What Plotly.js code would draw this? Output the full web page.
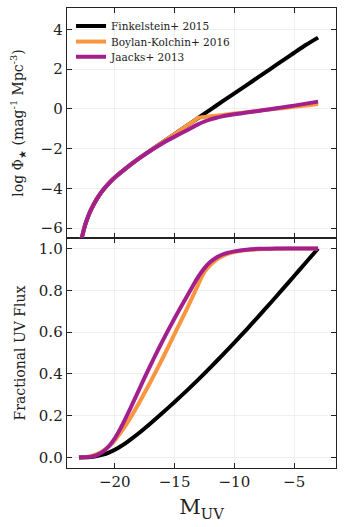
<!DOCTYPE html>
<html>
<head>
<meta charset="utf-8">
<script src="https://cdn.plot.ly/plotly-3.0.1.min.js"></script>
<style>
  body { margin: 0; background: #fff; }
  #plot { width: 346px; height: 527px; }
</style>
</head>
<body>
<div id="plot"></div>
<script>
// luminosity functions (top) and cumulative UV flux (bottom) vs M_UV

var names = ["Finkelstein+ 2015", "Boylan-Kolchin+ 2016", "Jaacks+ 2013"];
var colors = ["#000000", "#fa9640", "#a31f8d"];

// top panel: log phi
var mFink = [-23, -22.75, -22.5, -22.25, -22, -21.5, -21, -20.5, -20, -19, -18, -17, -16, -15, -14, -13, -12, -11, -10, -9, -8, -7, -6, -5, -4, -3];
var phiFink = [-6.96, -6.45, -5.88, -5.44, -5.09, -4.53, -4.10, -3.75, -3.46, -2.96, -2.51, -2.09, -1.68, -1.27, -0.86, -0.45, -0.04, 0.37, 0.78, 1.18, 1.59, 2.00, 2.41, 2.82, 3.22, 3.58];

var mBK = [-23, -22.75, -22.5, -22.25, -22, -21.5, -21, -20.5, -20, -19, -18, -17, -16, -15, -14.5, -14, -13.5, -13, -12.75, -12.5, -12, -11, -10, -9, -8, -7, -6, -5, -4, -3];
var phiBK = [-6.96, -6.45, -5.88, -5.44, -5.09, -4.53, -4.10, -3.75, -3.46, -2.96, -2.51, -2.09, -1.68, -1.27, -1.065, -0.86, -0.655, -0.45, -0.43, -0.41, -0.38, -0.31, -0.24, -0.17, -0.10, -0.03, 0.03, 0.10, 0.17, 0.24];

var mJaacks = [-23, -22.75, -22.5, -22.25, -22, -21.5, -21, -20.5, -20, -19, -18, -17, -16, -15, -14, -13, -12.5, -12, -11.5, -11, -10.5, -10, -9, -8, -7, -6, -5, -4, -3];
var phiJaacks = [-6.96, -6.45, -5.88, -5.44, -5.09, -4.53, -4.10, -3.75, -3.46, -2.96, -2.51, -2.10, -1.73, -1.40, -1.09, -0.77, -0.64, -0.53, -0.45, -0.38, -0.325, -0.28, -0.19, -0.11, -0.02, 0.07, 0.16, 0.26, 0.36];

// bottom panel: fractional UV flux
var mFlux = [-23, -22.5, -22, -21.5, -21, -20.5, -20, -19.5, -19, -18.5, -18, -17, -16, -15, -14, -13, -12, -11, -10, -9, -8, -7, -6, -5, -4, -3];
var fluxFink = [0.000, 0.001, 0.003, 0.007, 0.014, 0.024, 0.037, 0.054, 0.073, 0.094, 0.116, 0.164, 0.214, 0.266, 0.319, 0.374, 0.431, 0.490, 0.550, 0.611, 0.674, 0.738, 0.803, 0.868, 0.934, 1.000];

var mFluxBK = [-23, -22.5, -22, -21.5, -21, -20.5, -20, -19.5, -19, -18.5, -18, -17, -16, -15, -14, -13, -12.75, -12.5, -12, -11.5, -11, -10.5, -10, -9, -8, -7, -6, -5, -4, -3];
var fluxBK = [0.000, 0.002, 0.007, 0.016, 0.031, 0.053, 0.082, 0.120, 0.162, 0.209, 0.258, 0.364, 0.475, 0.591, 0.708, 0.830, 0.862, 0.888, 0.922, 0.947, 0.963, 0.975, 0.983, 0.992, 0.996, 0.998, 0.999, 1.000, 1.000, 1.000];

var mFluxJ = [-23, -22.5, -22, -21.5, -21, -20.5, -20, -19.5, -19, -18.5, -18, -17.5, -17, -16.5, -16, -15.5, -15, -14.5, -14, -13.5, -13, -12.5, -12, -11.5, -11, -10.5, -10, -9, -8, -7, -6, -5, -4, -3];
var fluxJ = [0.000, 0.001, 0.004, 0.012, 0.028, 0.054, 0.092, 0.142, 0.199, 0.260, 0.321, 0.383, 0.443, 0.502, 0.558, 0.613, 0.666, 0.718, 0.768, 0.818, 0.866, 0.906, 0.936, 0.957, 0.971, 0.980, 0.986, 0.994, 0.998, 0.999, 1.000, 1.000, 1.000, 1.000];

var xTicks = [-20, -15, -10, -5];
var topTicks = [-6, -4, -2, 0, 2, 4];
var botTicks = [0, 0.2, 0.4, 0.6, 0.8, 1.0];

var serif = "DejaVu Serif, serif";
var ink = "#222";

// one legend per entry so the rows can sit closer than plotly's default spacing
var legendIds = ["legend", "legend2", "legend3"];
var legendY = [0.961, 0.927, 0.894];

function lineTrace(x, y, i, xa, ya, legend) {
    var t = {
        x: x, y: y,
        xaxis: xa, yaxis: ya,
        type: "scatter", mode: "lines",
        name: names[i],
        showlegend: legend,
        line: {color: colors[i], width: 4, shape: "spline", smoothing: 0.6}
    };
    if (legend) t.legend = legendIds[i];
    return t;
}

var data = [
    lineTrace(mFink, phiFink, 0, "x2", "y2", true),
    lineTrace(mBK, phiBK, 1, "x2", "y2", true),
    lineTrace(mJaacks, phiJaacks, 2, "x2", "y2", true),
    lineTrace(mFlux, fluxFink, 0, "x", "y", false),
    lineTrace(mFluxBK, fluxBK, 1, "x", "y", false),
    lineTrace(mFluxJ, fluxJ, 2, "x", "y", false)
];

function frameAxis(extra) {
    var ax = {
        showline: true, linecolor: ink, linewidth: 1.3, mirror: "ticks",
        ticks: "inside", ticklen: 5, tickwidth: 1, tickcolor: ink,
        showgrid: true, gridcolor: "#ebebeb", gridwidth: 0.8,
        zeroline: false,
        tickfont: {family: serif, size: 15, color: ink}
    };
    for (var k in extra) ax[k] = extra[k];
    return ax;
}

var layout = {
    width: 346, height: 527,
    margin: {l: 67, r: 10, t: 8, b: 59},
    paper_bgcolor: "#fff", plot_bgcolor: "#fff",
    showlegend: true,
    xaxis: frameAxis({
        anchor: "y", range: [-24, -1.5], tickvals: xTicks,
        title: {text: "M<sub>UV</sub>", font: {family: serif, size: 21, color: ink}, standoff: 9}
    }),
    xaxis2: frameAxis({
        anchor: "y2", matches: "x", range: [-24, -1.5], tickvals: xTicks,
        showticklabels: false
    }),
    yaxis: frameAxis({
        domain: [0, 0.5], range: [-0.05, 1.05], tickvals: botTicks, tickformat: ".1f",
        title: {text: "Fractional UV Flux", font: {family: serif, size: 14, color: ink}, standoff: 10}
    }),
    yaxis2: frameAxis({
        domain: [0.5, 1], range: [-6.5, 5.07], tickvals: topTicks,
        title: {text: "log Φ<sub>★</sub> (mag<sup>-1</sup> Mpc<sup>-3</sup>)", font: {family: serif, size: 14, color: ink}, standoff: 13}
    })
};

for (var i = 0; i < legendIds.length; ++i) {
    layout[legendIds[i]] = {
        x: 0.015, y: legendY[i], xanchor: "left", yanchor: "middle",
        bgcolor: "rgba(0,0,0,0)",
        font: {family: serif, size: 10.5, color: ink}
    };
}

Plotly.newPlot("plot", data, layout, {staticPlot: true});
</script>
</body>
</html>
